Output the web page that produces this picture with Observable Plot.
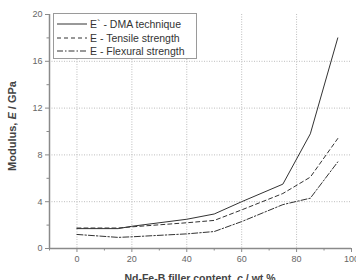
<!DOCTYPE html>
<html>
<head>
<meta charset="utf-8">
<script src="https://cdn.jsdelivr.net/npm/d3@7"></script>
<script src="https://cdn.jsdelivr.net/npm/@observablehq/plot@0.6"></script>
<style>
  html, body { margin: 0; padding: 0; background: #fff; }
  #wrap { position: relative; width: 356px; height: 280px; overflow: hidden; font-family: "Liberation Sans", Arial, sans-serif; }
  #legend { position: absolute; left: 53px; top: 13px; width: 144px; height: 46px; border: 1px solid #9a9a9a; background: #fff; box-sizing: border-box; }
  #legend .row { position: absolute; left: 3px; height: 14px; display: flex; align-items: center; font-size: 10.5px; color: #333; white-space: nowrap; }
  #legend svg { margin-right: 3px; }
</style>
</head>
<body>
<div id="wrap"><div id="legend"></div></div>
<script>
// Filler content (wt.%) and modulus (GPa) for the three measurement methods
const fillerContent = [0, 15, 20, 40, 50, 60, 75, 85, 95];
const dmaModulus      = [1.7, 1.7, 1.9, 2.5, 2.95, 4.0, 5.5, 9.8, 18.0];
const tensileModulus  = [1.75, 1.75, 1.85, 2.2, 2.4, 3.3, 4.7, 6.1, 9.4];
const flexuralModulus = [1.2, 0.95, 1.0, 1.25, 1.45, 2.3, 3.75, 4.3, 7.4];

const seriesNames = ["E` - DMA technique", "E - Tensile strength", "E - Flexural strength"];
const seriesValues = [dmaModulus, tensileModulus, flexuralModulus];
const seriesDash = [null, "4,3", "6,2,1.5,2"];

const xMajor = [0, 20, 40, 60, 80, 100];
const xMinor = [-10, 10, 30, 50, 70, 90];
const yMajor = [0, 4, 8, 12, 16, 20];
const yMinor = [2, 6, 10, 14, 18];
const xGrid = [0, 20, 40, 60, 80];
const yGrid = [4, 8, 12, 16];

const rows = seriesValues.flatMap((vals, s) =>
  fillerContent.map((c, i) => ({c, E: vals[i], s})));

const axisColor = "#8a8a8a";
const textColor = "#666";

const lineMarks = seriesValues.map((vals, s) =>
  Plot.line(rows.filter(d => d.s === s), {
    x: "c", y: "E", stroke: "#333", strokeWidth: 1,
    strokeDasharray: seriesDash[s]
  }));

const chart = Plot.plot({
  width: 356,
  height: 280,
  marginLeft: 49,
  marginRight: 5,
  marginTop: 14,
  marginBottom: 32,
  style: { fontFamily: "Liberation Sans, Arial, sans-serif", background: "#fff" },
  x: { domain: [-10, 100] },
  y: { domain: [0, 20] },
  marks: [
    // dotted grid at the major ticks
    Plot.ruleX(xGrid, { stroke: "#bdbdbd", strokeDasharray: "1,1.5", strokeWidth: 1 }),
    Plot.ruleY(yGrid, { stroke: "#bdbdbd", strokeDasharray: "1,1.5", strokeWidth: 1 }),
    ...lineMarks,
    // y axis: major ticks with labels, minor ticks without
    Plot.axisY(yMajor, { tickSize: 4, tickPadding: 3, stroke: axisColor, color: textColor, fontSize: 9, label: null }),
    Plot.axisY(yMinor, { tickSize: 2.5, stroke: axisColor, tickFormat: () => "", label: null }),
    // x axis: major and minor ticks
    Plot.axisX(xMajor, { tickSize: 4, tickPadding: 3, stroke: axisColor, color: textColor, fontSize: 9, label: null }),
    Plot.axisX(xMinor, { tickSize: 2.5, stroke: axisColor, tickFormat: () => "", label: null }),
    Plot.ruleX([-10], { stroke: axisColor, strokeWidth: 1.5 }),
    Plot.ruleY([0], { stroke: axisColor, strokeWidth: 1.5 })
  ]
});

const wrap = document.getElementById("wrap");
wrap.insertBefore(chart, wrap.firstChild);

// Axis titles, placed relative to the plot frame
const svg = d3.select(chart);
svg.append("text")
  .attr("transform", "translate(16,126) rotate(-90)")
  .attr("text-anchor", "middle")
  .attr("font-size", 11).attr("font-weight", "bold").attr("fill", "#444")
  .html('Modulus, <tspan font-style="italic">E</tspan> / GPa');
svg.append("text")
  .attr("x", 200).attr("y", 282)
  .attr("text-anchor", "middle")
  .attr("font-size", 10.5).attr("font-weight", "bold").attr("fill", "#444")
  .html('Nd-Fe-B filler content, <tspan font-style="italic">c</tspan> / wt.%');

// Legend with line-style samples
const legend = d3.select("#legend");
seriesNames.forEach((name, s) => {
  const row = legend.append("div").attr("class", "row").style("top", (3 + s * 13.5) + "px");
  const sample = row.append("svg").attr("width", 30).attr("height", 6);
  sample.append("line").attr("x1", 0).attr("x2", 30).attr("y1", 3).attr("y2", 3)
    .attr("stroke", "#333").attr("stroke-width", 1)
    .attr("stroke-dasharray", seriesDash[s]);
  row.append("span").text(name);
});
</script>
</body>
</html>
